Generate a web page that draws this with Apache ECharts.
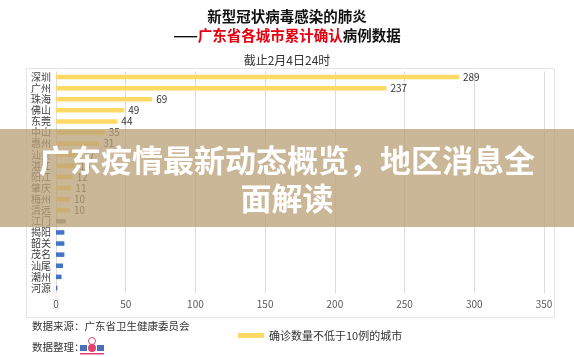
<!DOCTYPE html>
<html><head><meta charset="utf-8">
<script src="https://cdn.jsdelivr.net/npm/echarts@6/dist/echarts.min.js"></script>
<style>html,body{margin:0;padding:0;background:#fff}#c{width:574px;height:357px}</style>
</head><body><div id="c"></div>
<script>
const cities = ['深圳','广州','珠海','佛山','东莞','中山','惠州','汕头','湛江','阳江','肇庆','梅州','清远','江门','揭阳','韶关','茂名','汕尾','潮州','河源'];
const cases = [289,237,69,49,44,35,31,17,14,12,11,10,10,7,6,6,6,5,4,1];
const grayCities = ['江门'];
const xMin = 0, xMax = 350, xStep = 50;
const threshold = 10;
const legendName = '确诊数量不低于10例的城市';
const titleLine1 = '新型冠状病毒感染的肺炎';
const titleDash = '——', titleRed = '广东省各城市累计确认', titleTail = '病例数据';
const subtitle = '截止2月4日24时';
const sourceText = '数据来源：广东省卫生健康委员会';
const editorText = '数据整理：';
const overlayLine1 = '广东疫情最新动态概览，地区消息全';
const overlayLine2 = '面解读';

const FONT = '"Noto Sans CJK SC", "Noto Sans", sans-serif';
const YELLOW = '#FFD966', BLUE = '#4472C4', GRAY = '#8c8c8c';

const chart = echarts.init(document.getElementById('c'), null, {renderer: 'canvas'});
chart.setOption({
  animation: false,
  textStyle: {fontFamily: FONT},
  grid: {left: 56, right: 30, top: 71.5, height: 222, containLabel: false},
  xAxis: {
    type: 'value', min: xMin, max: xMax, interval: xStep,
    axisLine: {show: false}, axisTick: {show: false},
    splitLine: {lineStyle: {color: '#dcdcdc', width: 1}},
    axisLabel: {fontSize: 10, color: '#595959', margin: 6, fontFamily: FONT}
  },
  yAxis: {
    type: 'category', data: cities, inverse: true,
    axisLine: {show: false}, axisTick: {show: false},
    axisLabel: {interval: 0, fontSize: 10, color: '#404040', margin: 5, fontFamily: FONT}
  },
  legend: {
    data: [legendName], left: 233, top: 325, icon: 'rect',
    itemWidth: 26, itemHeight: 5, itemGap: 6,
    textStyle: {fontSize: 11, color: '#333', fontFamily: FONT}
  },
  series: [
    {
      name: legendName, type: 'bar', barWidth: 4.5,
      itemStyle: {color: YELLOW},
      data: cases.map(v => v >= threshold ? v : '-'),
      label: {show: true, position: 'right', distance: 4, fontSize: 10, color: '#333', fontFamily: FONT}
    },
    {
      name: 'other', type: 'bar', barWidth: 4.5, barGap: '-100%',
      data: cases.map((v, i) => v < threshold ? {value: v, itemStyle: {color: grayCities.includes(cities[i]) ? GRAY : BLUE}} : '-')
    }
  ],
  graphic: [
    {type: 'rect', silent: true, z: 0, shape: {x: 26.5, y: 68.5, width: 528, height: 249},
     style: {fill: 'none', stroke: '#e4e4e4', lineWidth: 1}},
    {type: 'text', x: 287, y: 16.5, z: 10, style: {text: titleLine1, align: 'center', verticalAlign: 'middle',
      font: 'bold 14.5px ' + FONT, fill: '#111'}},
    {type: 'text', x: 287, y: 35.5, z: 10, style: {
      text: '{a|' + titleDash + '}{b|' + titleRed + '}{a|' + titleTail + '}',
      align: 'center', verticalAlign: 'middle',
      rich: {
        a: {fontSize: 14.5, fontWeight: 'bold', fill: '#111', color: '#111', fontFamily: FONT},
        b: {fontSize: 14.5, fontWeight: 'bold', fill: '#e6000f', color: '#e6000f', fontFamily: FONT}
      }}},
    {type: 'text', x: 287, y: 60.5, z: 10, style: {text: subtitle, align: 'center', verticalAlign: 'middle',
      font: '12px ' + FONT, fill: '#333'}},
    {type: 'text', x: 32, y: 326, z: 10, style: {text: sourceText, align: 'left', verticalAlign: 'middle',
      font: '10.5px ' + FONT, fill: '#333'}},
    {type: 'text', x: 32, y: 347, z: 10, style: {text: editorText, align: 'left', verticalAlign: 'middle',
      font: '10.5px ' + FONT, fill: '#333'}},
    {type: 'circle', z: 10, shape: {cx: 92, cy: 341, r: 3.5}, style: {fill: 'none', stroke: '#e4406f', lineWidth: 1}},
    {type: 'circle', z: 10, shape: {cx: 92, cy: 348, r: 4}, style: {fill: '#e4406f'}},
    {type: 'rect', z: 10, shape: {x: 80, y: 345, width: 7, height: 6}, style: {fill: '#4a6fb5'}},
    {type: 'rect', z: 10, shape: {x: 97, y: 345, width: 7, height: 6}, style: {fill: '#4a6fb5'}},
    {type: 'rect', z: 10, shape: {x: 80, y: 353, width: 24, height: 1.5}, style: {fill: '#e4406f'}},
    {type: 'rect', silent: true, z: 100, shape: {x: 0, y: 129, width: 574, height: 98},
     style: {fill: 'rgba(185,160,120,0.76)'}},
    {type: 'text', x: 287, y: 160, z: 101, style: {text: overlayLine1, align: 'center', verticalAlign: 'middle',
      font: 'bold 31px ' + FONT, fill: '#ffffff'}},
    {type: 'text', x: 287, y: 198, z: 101, style: {text: overlayLine2, align: 'center', verticalAlign: 'middle',
      font: 'bold 31px ' + FONT, fill: '#ffffff'}}
  ]
});
</script></body></html>
